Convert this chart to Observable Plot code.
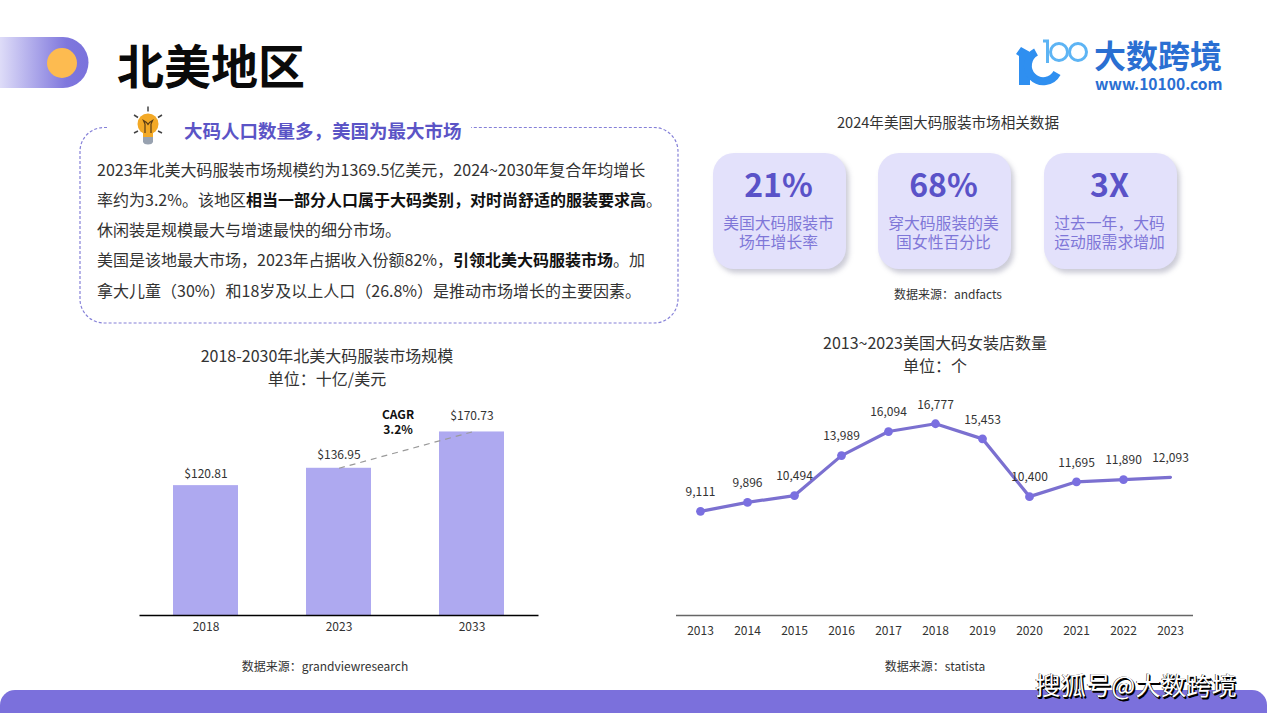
<!DOCTYPE html>
<html lang="zh"><head><meta charset="utf-8">
<script src="https://cdn.jsdelivr.net/npm/d3@7"></script>
<script src="https://cdn.jsdelivr.net/npm/@observablehq/plot@0.6"></script>
<style>
html,body{margin:0;padding:0;background:#fff;}
#page{position:relative;width:1267px;height:713px;overflow:hidden;background:#fff;font-family:"Noto Sans CJK SC","Noto Sans",sans-serif;color:#333;}
.t{position:absolute;white-space:nowrap;line-height:1;}
.c{transform:translate(-50%,-50%);}
.m{transform:translateY(-50%);}
.abs{position:absolute;}
b{font-weight:700;color:#111;}
.card{position:absolute;top:153px;width:133px;height:116px;border-radius:21px;background:#e3e1fb;box-shadow:3px 4px 5px rgba(120,120,150,.38);}
svg{overflow:visible;}
</style></head><body><div id="page"></div>
<script>
const barYears = ["2018","2023","2033"];
const barValues = [120.81,136.95,170.73];
const lineYears = ["2013","2014","2015","2016","2017","2018","2019","2020","2021","2022","2023"];
const lineValues = [9111,9896,10494,13989,16094,16777,15453,10400,11695,11890,12093];
const cardValues = ["21%","68%","3X"];
const cardCaptions = [["美国大码服装市","场年增长率"],["穿大码服装的美","国女性百分比"],["过去一年，大码","运动服需求增加"]];
const bodyLines = [
 "2023年北美大码服装市场规模约为1369.5亿美元，2024~2030年复合年均增长",
 "率约为3.2%。该地区<b>相当一部分人口属于大码类别，对时尚舒适的服装要求高</b>。",
 "休闲装是规模最大与增速最快的细分市场。",
 "美国是该地最大市场，2023年占据收入份额82%，<b>引领北美大码服装市场</b>。加",
 "拿大儿童（30%）和18岁及以上人口（26.8%）是推动市场增长的主要因素。"
];
const page = document.getElementById("page");
function txt(s,x,y,size,color,opt={}){
  const d=document.createElement("div");
  d.className="t "+(opt.center?"c":"m");
  d.innerHTML=s;
  d.style.cssText=`left:${x}px;top:${y}px;font-size:${size}px;color:${color};font-weight:${opt.w||400};`+(opt.css||"");
  page.appendChild(d);return d;
}
// Decoration
page.insertAdjacentHTML("beforeend",`
<svg class="abs" style="left:0;top:0" width="1267" height="713">
 <defs><linearGradient id="pill" x1="0" x2="1" y1="0" y2="0"><stop offset="0" stop-color="#dedcf8"/><stop offset=".75" stop-color="#7f77dd"/><stop offset="1" stop-color="#7a72dc"/></linearGradient></defs>
 <path d="M0 37H63a25.5 25.5 0 0 1 0 51H0Z" fill="url(#pill)"/>
 <circle cx="62" cy="63" r="15" fill="#fdbb50"/>
 <path d="M107 127.5H104a24 24 0 0 0-24 24V299a24 24 0 0 0 24 24H654a24 24 0 0 0 24-24V151.500a24 24 0 0 0-24-24H471" fill="none" stroke="#8580d8" stroke-width="1.2" stroke-dasharray="3 2"/>
 <g>
  <path d="M148 106.500v5M134 115l4 2.500M162 115l-4 2.500M134 133l4-2M162 133l-4-2" stroke="#444" stroke-width="1.500"/>
  <circle cx="148" cy="124" r="10.500" fill="#f3a926"/>
  <path d="M143 131h10v6h-10Z" fill="#f3a926"/>
  <path d="M143 137h10v5q-1 2.500-5 2.500t-5-2.500Z" fill="#98a2b0"/>
  <path d="M145 133v-9l-1.500-3.500 3 2 1.500 2 1.500-2 3-2-1.500 3.500v9" fill="none" stroke="#5a3c15" stroke-width="1.200"/>
 </g>
 <path d="M1016 54l5-7 9 5v33h-11V56Z" fill="#2f8ff0"/>
 <path d="M1036 52a15.500 15.500 0 1 0 21 21" fill="none" stroke="#2f8ff0" stroke-width="8"/>
 <g fill="none" stroke="#5db4f4" stroke-width="3">
  <path d="M1043 41h4.500v22"/>
  <circle cx="1059" cy="52" r="8.500"/><circle cx="1078" cy="52" r="8.500"/>
 </g>
 <path d="M0 713V705a15 15 0 0 1 15-15H1252a15 15 0 0 1 15 15V713Z" fill="#7b70dc"/>
</svg>`);
txt("北美地区",117,63,47,"#0a0a0a",{w:700});
txt("大数跨境",1094,54,32,"#2a6fd2",{w:700});
txt("www.10100.com",1095,83.5,15.6,"#2a6fd2",{w:700});
txt("大码人口数量多，美国为最大市场",184,129.5,18.5,"#5b54c6",{w:700});
const bodyY=[168.500,198.500,229,259,290];
bodyLines.forEach((s,i)=>txt(s,97,bodyY[i],16,"#333"));
txt("2024年美国大码服装市场相关数据",948,121.5,14.6,"#333",{center:true});
[713,878,1044].forEach((x,i)=>{
  const d=document.createElement("div");d.className="card";d.style.left=x+"px";page.appendChild(d);
  txt(cardValues[i],x+65.5,183,32,"#5a52c8",{center:true,w:700});
  txt(cardCaptions[i][0],x+65.5,222.5,15.8,"#7f77d8",{center:true});
  txt(cardCaptions[i][1],x+65.5,241.5,15.8,"#7f77d8",{center:true});
});
txt("数据来源：andfacts",948,294,12,"#333",{center:true});
txt("2018-2030年北美大码服装市场规模",327,355,16,"#333",{center:true});
txt("单位：十亿/美元",327,378,16,"#333",{center:true});
txt("2013~2023美国大码女装店数量",935,342,16,"#333",{center:true});
txt("单位：个",935,365,16,"#333",{center:true});
txt("数据来源：grandviewresearch",325,665.5,12,"#333",{center:true});
txt("数据来源：statista",935,665.5,12,"#333",{center:true});
txt("搜狐号@大数跨境",1136,684.5,25.4,"#fff",{center:true,w:400,css:"text-shadow:1px 1px 0 #000,1.5px 1.5px 0 #000,-.5px -.5px 0 #222;"});

// Bar chart
const bars = barYears.map((year,i)=>({year,value:barValues[i]}));
const barLabelDy = [-11,-13,-16];
const barPlot = Plot.plot({
  width:420,height:240,marginLeft:9.5,marginRight:11.5,marginTop:0,marginBottom:25,
  style:{fontFamily:'"Noto Sans CJK SC",sans-serif',fontSize:"12px",background:"transparent",overflow:"visible"},
  x:{type:"band",domain:barYears,paddingInner:0.51,paddingOuter:0.255,label:null},
  y:{domain:[0,200],axis:null},
  marks:[
    Plot.barY(bars,{x:"year",y:"value",fill:"#aea9f0"}),
    Plot.link([{a:"2023",b:"2033",u:barValues[1],v:barValues[2]}],{x1:"a",x2:"b",y1:"u",y2:"v",stroke:"#9a9a9a",strokeWidth:1.2,strokeDasharray:"6 5"}),
    Plot.ruleY([0],{stroke:"#000",strokeWidth:1.5}),
    ...bars.map((b,i)=>Plot.text([b],{x:"year",y:"value",text:d=>d3.format("$.2f")(d.value),dy:barLabelDy[i],fill:"#333",fontSize:12})),
    Plot.text(["CAGR\n3.2%"],{x:()=>"2023",y:()=>180,dx:59,text:d=>d,fontWeight:700,fontSize:12,fill:"#111",lineHeight:1.2}),
    Plot.axisX({tickSize:0,tickPadding:7,fontSize:12,color:"#333",label:null})
  ]
});
barPlot.style.cssText+=";position:absolute;left:130px;top:400px;";
page.appendChild(barPlot);

// Line chart
const pts = lineYears.map((year,i)=>({year,value:lineValues[i]}));
const linePlot = Plot.plot({
  width:530,height:250,marginLeft:6,marginRight:7,marginTop:0,marginBottom:25,
  style:{fontFamily:'"Noto Sans CJK SC",sans-serif',fontSize:"12px",background:"transparent",overflow:"visible"},
  x:{type:"point",domain:lineYears,padding:0.5,label:null},
  y:{domain:[0,19685],axis:null},
  marks:[
    Plot.ruleY([0],{stroke:"#666",strokeWidth:1.5}),
    Plot.line(pts,{x:"year",y:"value",stroke:"#7b70d0",strokeWidth:3.2}),
    Plot.dot(pts.slice(0,-1),{x:"year",y:"value",fill:"#7a6fe0",r:4.4}),
    Plot.text(pts,{x:"year",y:"value",text:d=>d3.format(",")(d.value),dy:-19,fill:"#333",fontSize:12}),
    Plot.axisX({tickSize:0,tickPadding:11,fontSize:12,color:"#333",label:null})
  ]
});
linePlot.style.cssText+=";position:absolute;left:670px;top:390px;";
page.appendChild(linePlot);
</script></body></html>
